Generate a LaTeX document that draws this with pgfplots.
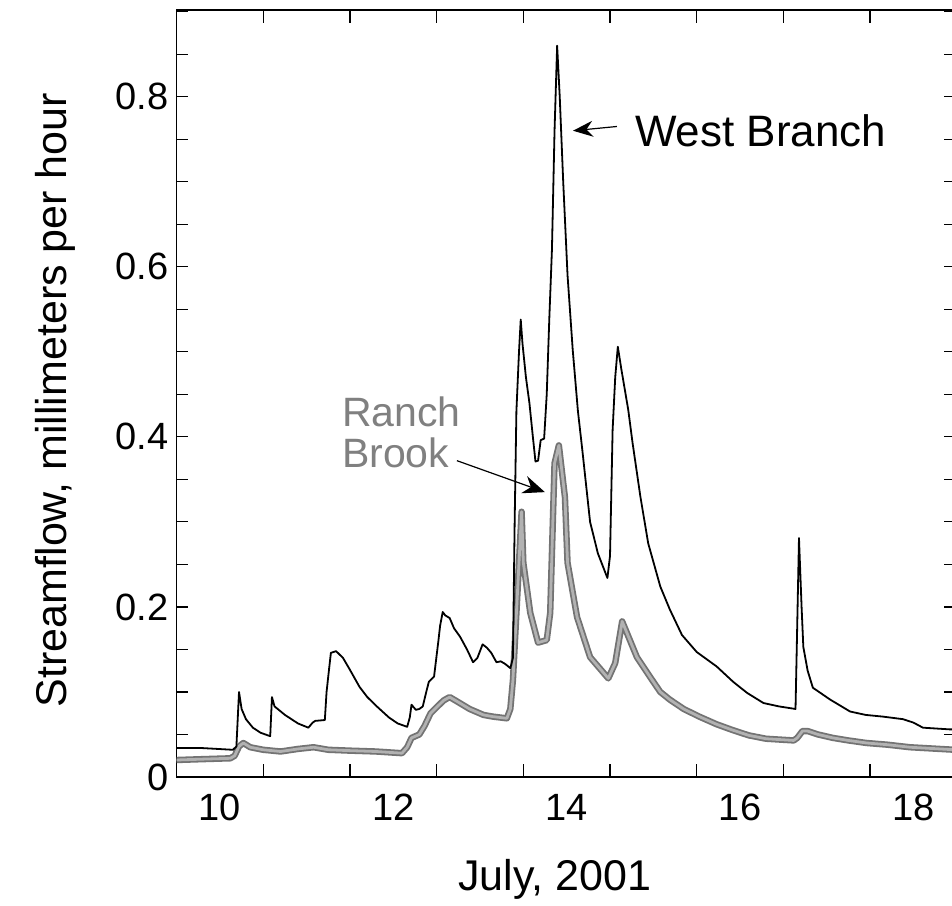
\documentclass[border=0pt]{standalone}
\usepackage{fontspec}
\setmainfont{Liberation Sans}
\usepackage{pgfplots}
\pgfplotsset{compat=1.18}
\usetikzlibrary{arrows.meta}

\pgfplotstableread{
day   q
10.00 0.034
10.30 0.034
10.65 0.032
10.69 0.036
10.72 0.100
10.75 0.080
10.80 0.068
10.88 0.058
10.97 0.052
11.08 0.048
11.10 0.094
11.13 0.083
11.25 0.073
11.40 0.063
11.52 0.058
11.57 0.064
11.60 0.066
11.71 0.067
11.73 0.100
11.76 0.128
11.78 0.146
11.84 0.148
11.92 0.140
12.00 0.126
12.11 0.106
12.20 0.094
12.31 0.083
12.45 0.070
12.55 0.063
12.66 0.059
12.69 0.070
12.71 0.085
12.76 0.079
12.80 0.080
12.84 0.083
12.88 0.100
12.91 0.112
12.97 0.118
13.02 0.160
13.04 0.178
13.07 0.194
13.10 0.190
13.15 0.187
13.20 0.175
13.27 0.165
13.35 0.150
13.42 0.135
13.47 0.140
13.53 0.156
13.58 0.152
13.63 0.146
13.69 0.135
13.74 0.136
13.79 0.133
13.85 0.128
13.88 0.140
13.90 0.300
13.92 0.430
13.95 0.500
13.97 0.538
13.99 0.510
14.03 0.470
14.07 0.440
14.11 0.400
14.14 0.371
14.17 0.372
14.20 0.396
14.24 0.398
14.27 0.450
14.30 0.540
14.33 0.620
14.36 0.760
14.39 0.860
14.42 0.800
14.46 0.700
14.51 0.590
14.57 0.502
14.63 0.430
14.68 0.385
14.77 0.300
14.86 0.263
14.97 0.234
15.00 0.260
15.03 0.408
15.06 0.470
15.09 0.506
15.13 0.480
15.21 0.432
15.26 0.393
15.35 0.330
15.44 0.275
15.58 0.224
15.69 0.197
15.83 0.167
16.00 0.147
16.23 0.130
16.42 0.112
16.58 0.099
16.77 0.087
16.95 0.083
17.14 0.080
17.16 0.180
17.18 0.281
17.21 0.200
17.23 0.153
17.28 0.125
17.34 0.105
17.54 0.091
17.77 0.077
17.95 0.073
18.15 0.071
18.38 0.068
18.50 0.064
18.61 0.058
18.92 0.056
18.98 0.056
}\westbranch

\pgfplotstableread{
day   q
10.00 0.020
10.30 0.021
10.62 0.022
10.67 0.025
10.72 0.036
10.77 0.040
10.85 0.035
11.00 0.032
11.20 0.030
11.40 0.033
11.58 0.035
11.75 0.032
12.00 0.031
12.30 0.030
12.60 0.028
12.66 0.035
12.71 0.046
12.80 0.050
12.86 0.060
12.93 0.075
13.00 0.082
13.08 0.090
13.15 0.094
13.25 0.088
13.38 0.080
13.54 0.073
13.65 0.071
13.81 0.069
13.85 0.080
13.88 0.114
13.93 0.212
13.98 0.312
14.00 0.252
14.08 0.193
14.17 0.158
14.27 0.161
14.31 0.193
14.36 0.369
14.41 0.390
14.48 0.329
14.51 0.252
14.62 0.188
14.77 0.141
14.98 0.116
15.06 0.134
15.14 0.183
15.31 0.141
15.46 0.118
15.58 0.100
15.69 0.091
15.85 0.080
16.03 0.071
16.23 0.062
16.42 0.055
16.60 0.049
16.80 0.045
17.12 0.043
17.16 0.046
17.22 0.054
17.28 0.054
17.40 0.050
17.57 0.046
17.75 0.043
17.96 0.040
18.20 0.038
18.46 0.035
18.98 0.032
}\ranchbrook

\begin{document}
\begin{tikzpicture}
\useasboundingbox (0,0) rectangle (476pt,452.5pt);
\begin{axis}[
  at={(88.3pt,64pt)}, anchor=south west,
  scale only axis,
  width=389.2pt, height=383.5pt,
  xmin=10, xmax=18.98,
  ymin=0, ymax=0.902,
  axis line style={line width=0.7pt},
  tick style={black, line width=0.6pt},
  tick align=inside,
  xtick={10.5,12.5,14.5,16.5,18.5},
  xticklabels={10,12,14,16,18},
  minor xtick={11,12,13,14,15,16,17,18},
  major tick length=0pt,
  ytick={0,0.2,0.4,0.6,0.8},
  yticklabels={0,0.2,0.4,0.6,0.8},
  minor ytick={0.05,0.1,...,0.9},
  extra y ticks={0.2,0.4,0.6,0.8},
  extra y tick labels={},
  extra y tick style={major tick length=5.5pt},
  every minor tick/.style={minor tick length=5.5pt},
  minor x tick style={/pgfplots/minor tick length=6.5pt},
  /pgf/number format/assume math mode=true,
  ticklabel style={font=\fontsize{19}{22}\selectfont},
  xticklabel style={yshift=-5pt},
  yticklabel style={xshift=-0.5pt},
  label style={font=\fontsize{21.5}{25}\selectfont},
  xlabel={July, 2001},
  xlabel style={at={(axis description cs:0.486,0)}, anchor=base, yshift=-56.5pt},
  ylabel={Streamflow, millimeters per hour},
  ylabel style={at={(axis description cs:-0.1413,0.4915)}, anchor=base},
  clip=true,
]
\addplot[black!55, line width=3.2pt, line join=round] table[x=day, y=q] {\ranchbrook};
\addplot[black!30, line width=1.4pt, line join=round] table[x=day, y=q] {\ranchbrook};
\addplot[black, line width=0.9pt, line join=round] table[x=day, y=q] {\westbranch};

\node[anchor=base west, font=\fontsize{22}{26}\selectfont] at (axis cs:15.207,0.741) {West Branch};
\draw[black, line width=0.6pt, -{Stealth[length=10pt,width=8pt]}] (axis cs:15.08,0.765) -- (axis cs:14.573,0.760);

\node[anchor=base west, text=black!50, font=\fontsize{20.5}{24}\selectfont] at (axis cs:11.827,0.4118) {Ranch};
\node[anchor=base west, text=black!50, font=\fontsize{20.5}{24}\selectfont] at (axis cs:11.827,0.3635) {Brook};
\draw[black, line width=0.6pt, -{Stealth[length=11pt,width=9pt]}] (axis cs:13.234,0.372) -- (axis cs:14.249,0.335);
\end{axis}
\end{tikzpicture}
\end{document}
